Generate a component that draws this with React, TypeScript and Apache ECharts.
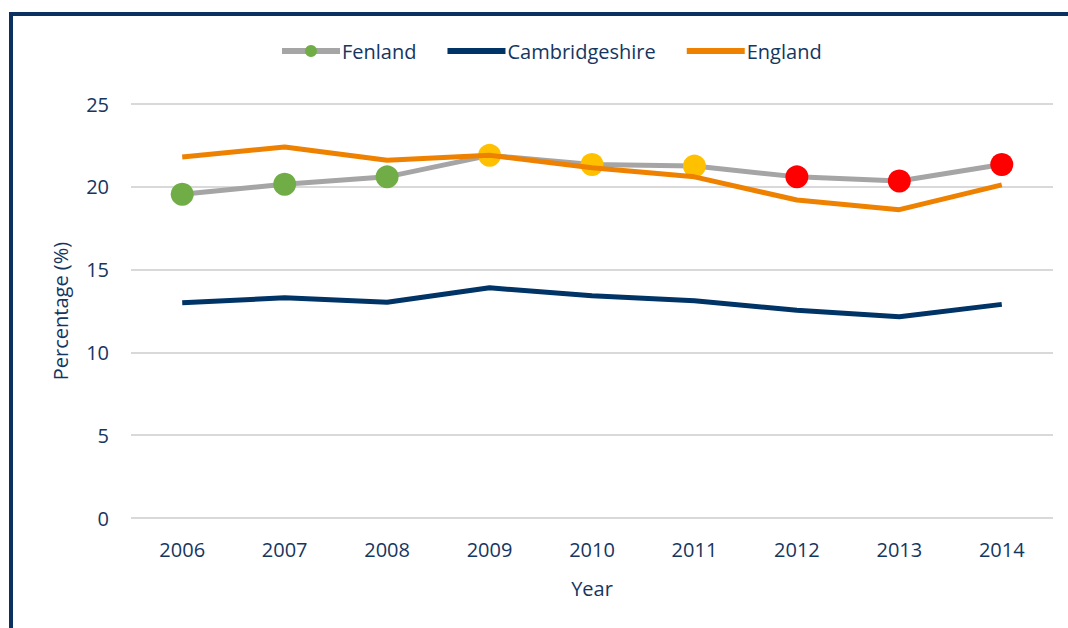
import React, { useEffect, useRef } from "react";
import * as echarts from "echarts";

const years = ["2006", "2007", "2008", "2009", "2010", "2011", "2012", "2013", "2014"];
const fenland = [19.55, 20.15, 20.6, 21.9, 21.35, 21.25, 20.6, 20.35, 21.35];
const fenlandColors = ["#70AD47", "#70AD47", "#70AD47", "#FFC000", "#FFC000", "#FFC000", "#FF0000", "#FF0000", "#FF0000"];
const cambridgeshire = [13.0, 13.3, 13.03, 13.9, 13.42, 13.12, 12.55, 12.15, 12.9];
const england = [21.8, 22.4, 21.6, 21.9, 21.15, 20.6, 19.2, 18.62, 20.12];
const yTicks = { min: 0, max: 25, interval: 5 };

const TEXT = "#15365F";
const FONT = "Open Sans";

export default function App() {
  const ref = useRef<HTMLDivElement>(null);
  useEffect(() => {
    if (!ref.current) return;
    const chart = echarts.init(ref.current, null, { renderer: "svg" });
    chart.setOption({
      animation: false,
      backgroundColor: "#ffffff",
      textStyle: { fontFamily: FONT, color: TEXT },
      graphic: [
        {
          type: "rect",
          shape: { x: 11, y: 14, width: 2000, height: 2000 },
          style: { fill: "none", stroke: "#0B3160", lineWidth: 4 },
          silent: true,
          z: 100,
        },
      ],
      legend: {
        top: 36,
        left: 274,
        itemWidth: 58,
        itemHeight: 15,
        itemGap: 28,
        lineStyle: { width: 6 },
        textStyle: { fontFamily: FONT, fontSize: 20, color: TEXT, padding: [0, 0, 0, -3] },
        data: [
          { name: "Fenland" },
          { name: "Cambridgeshire", itemStyle: { opacity: 0 } },
          { name: "England", itemStyle: { opacity: 0 } },
        ],
      },
      grid: { left: 131, right: 15, top: 104, bottom: 110 },
      xAxis: {
        type: "category",
        data: years,
        name: "Year",
        nameLocation: "middle",
        nameGap: 60,
        nameTextStyle: { fontFamily: FONT, fontSize: 20, color: TEXT },
        axisLine: { show: false },
        axisTick: { show: false },
        axisLabel: { fontFamily: FONT, fontSize: 20, color: TEXT, margin: 21 },
      },
      yAxis: {
        type: "value",
        min: yTicks.min,
        max: yTicks.max,
        interval: yTicks.interval,
        name: "Percentage (%)",
        nameLocation: "middle",
        nameGap: 61,
        nameTextStyle: { fontFamily: FONT, fontSize: 20, color: TEXT },
        axisLine: { show: false },
        axisTick: { show: false },
        axisLabel: { fontFamily: FONT, fontSize: 20, color: TEXT, margin: 22 },
        splitLine: { lineStyle: { color: "#D9D9D9", width: 2 } },
      },
      series: [
        {
          name: "Fenland",
          type: "line",
          data: fenland.map((v, i) => ({ value: v, itemStyle: { color: fenlandColors[i] } })),
          symbol: "circle",
          symbolSize: 23,
          itemStyle: { color: "#70AD47" },
          lineStyle: { color: "#A5A5A5", width: 5 },
          z: 2,
        },
        {
          name: "Cambridgeshire",
          type: "line",
          data: cambridgeshire,
          symbol: "none",
          itemStyle: { color: "#003366" },
          lineStyle: { color: "#003366", width: 5 },
          z: 3,
        },
        {
          name: "England",
          type: "line",
          data: england,
          symbol: "none",
          itemStyle: { color: "#EE8200" },
          lineStyle: { color: "#EE8200", width: 5 },
          z: 4,
        },
      ],
    });
    return () => chart.dispose();
  }, []);
  return (
    <div style={{ position: "fixed", left: 0, top: 0, width: 1068, height: 628 }}>
      <div ref={ref} style={{ width: 1068, height: 628 }} />
    </div>
  );
}
